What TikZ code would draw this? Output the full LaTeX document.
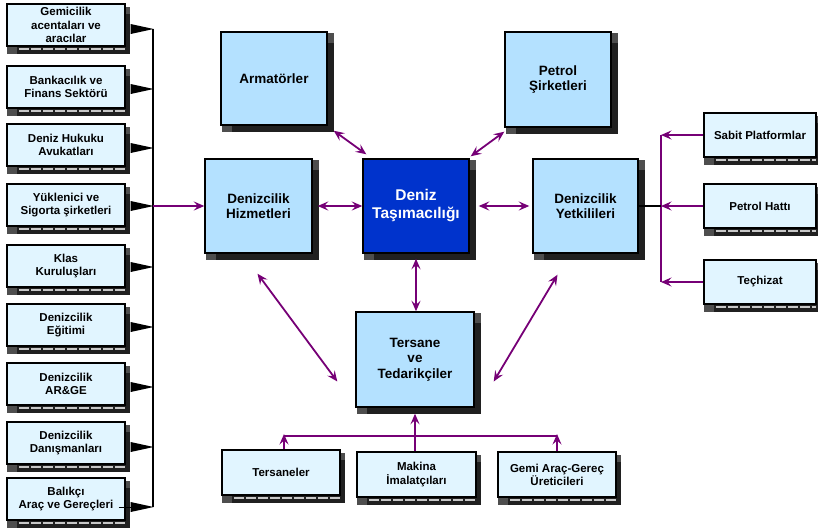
\documentclass[tikz,border=0pt]{standalone}
\usepackage{fontspec}
\setmainfont{Liberation Sans}
\usetikzlibrary{arrows.meta,calc}
\definecolor{pp}{RGB}{118,0,118}
\definecolor{bigfill}{RGB}{180,225,255}
\definecolor{smfill}{RGB}{225,245,255}
\definecolor{dtfill}{RGB}{0,51,204}
\definecolor{shd}{RGB}{32,32,32}
\definecolor{shl}{RGB}{78,78,78}
\definecolor{keyc}{RGB}{200,200,200}
\tikzset{
 bigbox/.style={draw=black, line width=1.4pt, fill=bigfill, inner sep=0pt, align=center, font=\bfseries\fontsize{13.5}{15.5}\selectfont},
 dtbox/.style={bigbox, fill=dtfill, text=white, font=\bfseries\fontsize{15.5}{18}\selectfont},
 smbox/.style={draw=black, line width=1.2pt, fill=smfill, inner sep=0pt, align=center, font=\bfseries\fontsize{11.5}{13.2}\selectfont},
 link/.style={draw=pp, line width=1.8pt},
 arr/.style={-{Stealth[length=10.5pt,width=9pt,inset=4pt]}},
 darr/.style={{Stealth[length=10.5pt,width=9pt,inset=4pt]}-{Stealth[length=10.5pt,width=9pt,inset=4pt]}},
 blk/.style={draw=black, line width=1.2pt},
}
% big box: style, name, x1, y1, x2, y2, text
\newcommand{\BigB}[7]{%
 \fill[shl] ({#3+1},{#4+1}) rectangle ({#5+7},{#6+7});
 \fill[shd] ({#3+11},{#4+11}) rectangle ({#5+7},{#6+7});
 \node[#1, minimum width={#5-#3}, minimum height={#6-#4}] (#2) at ({(#3+#5)/2},{(#4+#6)/2}) {#7};}
% small box: name, x1, y1, x2, y2, text
\newcommand{\SmB}[6]{%
 \fill[shd] ({#4},{#3+3}) rectangle ({#4+5},{#5+8});
 \fill[shl] ({#4},{#3+3}) rectangle ({#4+5},{#3+10});
 \fill[shd] ({#2},{#5}) rectangle ({#4+5},{#5+8});
 \fill[shl] ({#2},{#5}) rectangle ({#2+10},{#5+8});
 \draw[keyc, line width=2pt, dash pattern=on 9.5pt off 2.5pt] ({#2+12},{#5+3}) -- ({#4},{#5+3});
 \node[smbox, minimum width={#4-#2}, minimum height={#5-#3}] (#1) at ({(#2+#4)/2},{(#3+#5)/2}) {#6};}
\begin{document}
\begin{tikzpicture}[x=1pt,y=-1pt]
\useasboundingbox (0,0) rectangle (818,528);
% left column
\SmB{L1}{7}{4}{125}{46}{Gemicilik\\acentaları ve\\aracılar}
\SmB{L2}{7}{66}{125}{108}{Bankacılık ve\\Finans Sektörü}
\SmB{L3}{7}{124}{125}{166}{Deniz Hukuku\\Avukatları}
\SmB{L4}{7}{184}{125}{226}{Yüklenici ve\\Sigorta şirketleri}
\SmB{L5}{7}{245}{125}{287}{Klas\\Kuruluşları}
\SmB{L6}{7}{304}{125}{346}{Denizcilik\\Eğitimi}
\SmB{L7}{7}{363}{125}{405}{Denizcilik\\AR\&GE}
\SmB{L8}{7}{422}{125}{464}{Denizcilik\\Danışmanları}
\SmB{L9}{7}{478}{125}{520}{Balıkçı\\Araç ve Gereçleri}
% right column
\SmB{R1}{704}{113}{816}{157}{Sabit Platformlar}
\SmB{R2}{704}{184}{816}{228}{Petrol Hattı}
\SmB{R3}{704}{260}{816}{304}{Teçhizat}
% bottom row
\SmB{B1}{222}{450}{340}{495}{Tersaneler}
\SmB{B2}{357}{452}{476}{497}{Makina\\İmalatçıları}
\SmB{B3}{498}{452}{616}{497}{Gemi Araç-Gereç\\Üreticileri}
% big boxes
\BigB{bigbox}{arm}{221}{32}{327}{125}{Armatörler}
\BigB{bigbox}{pet}{505}{32}{611}{127}{Petrol\\Şirketleri}
\BigB{bigbox}{hiz}{205}{159}{312}{253}{Denizcilik\\Hizmetleri}
\BigB{dtbox}{dt}{363}{159}{469}{253}{Deniz\\Taşımacılığı}
\BigB{bigbox}{yet}{533}{159}{638}{253}{Denizcilik\\Yetkilileri}
\BigB{bigbox}{ter}{356}{312}{474}{407}{Tersane\\ve\\Tedarikçiler}
% left bracket
\coordinate (bt) at (153,29);
\coordinate (bb) at (153,507);
\coordinate (bm) at (153,206);
\draw[blk] (bt) -- (bb);
\foreach \n/\dy in {L1/4,L2/2,L3/3,L4/1,L5/1,L6/2,L7/3,L8/4,L9/8}{
 \fill ($(\n.east)+(5,{\dy-5})$) -- ($(\n.east)+(28,\dy)$) -- ($(\n.east)+(5,{\dy+5})$) -- cycle;
}
\draw[line width=1pt] ($(L9.east)+(-7,8)$) -- ($(L9.east)+(5,8)$);
\draw[link,arr] (bm) -- (hiz.west);
% right bracket
\coordinate (rt) at (661,135);
\coordinate (rb) at (661,282);
\draw[link] (rt) -- (rb);
\draw[blk] (yet.east) -- (yet.east -| rt);
\foreach \n in {R1,R2,R3}{
 \draw[link,arr] (\n.west) -- (\n.west -| rt);
}
% central links
\draw[link,darr] ($(arm.south east)+(6,5)$) -- ($(dt.north west)+(4,-4)$);
\draw[link,darr] ($(pet.south west)+(0,4)$) -- ($(dt.north east)+(1,-2)$);
\draw[link,darr] ($(hiz.east)+(5,0)$) -- (dt.west);
\draw[link,darr] ($(dt.east)+(9,0)$) -- ($(yet.west)+(-3,0)$);
\draw[link,darr] ($(dt.south)+(0,5)$) -- (dt.south |- ter.north);
\draw[link,darr] ($(hiz.south)+(-1,20)$) -- ($(ter.west)+(-18,22)$);
\draw[link,darr] ($(yet.south)+(-28,21)$) -- ($(ter.east)+(19,22)$);
% bottom bus
\coordinate (busL) at (284,436);
\coordinate (busR) at (557,436);
\draw[link] (busL) -- (busR);
\draw[link,arr] ($(B1.north)+(3,0)$) -- ($(busL)+(0,-2)$);
\draw[link,arr] (B3.north) -- ($(B3.north |- busR)+(0,-2)$);
\draw[link,arr] (B2.north -| ter.south) -- ($(ter.south)+(0,6)$);
\end{tikzpicture}
\end{document}
